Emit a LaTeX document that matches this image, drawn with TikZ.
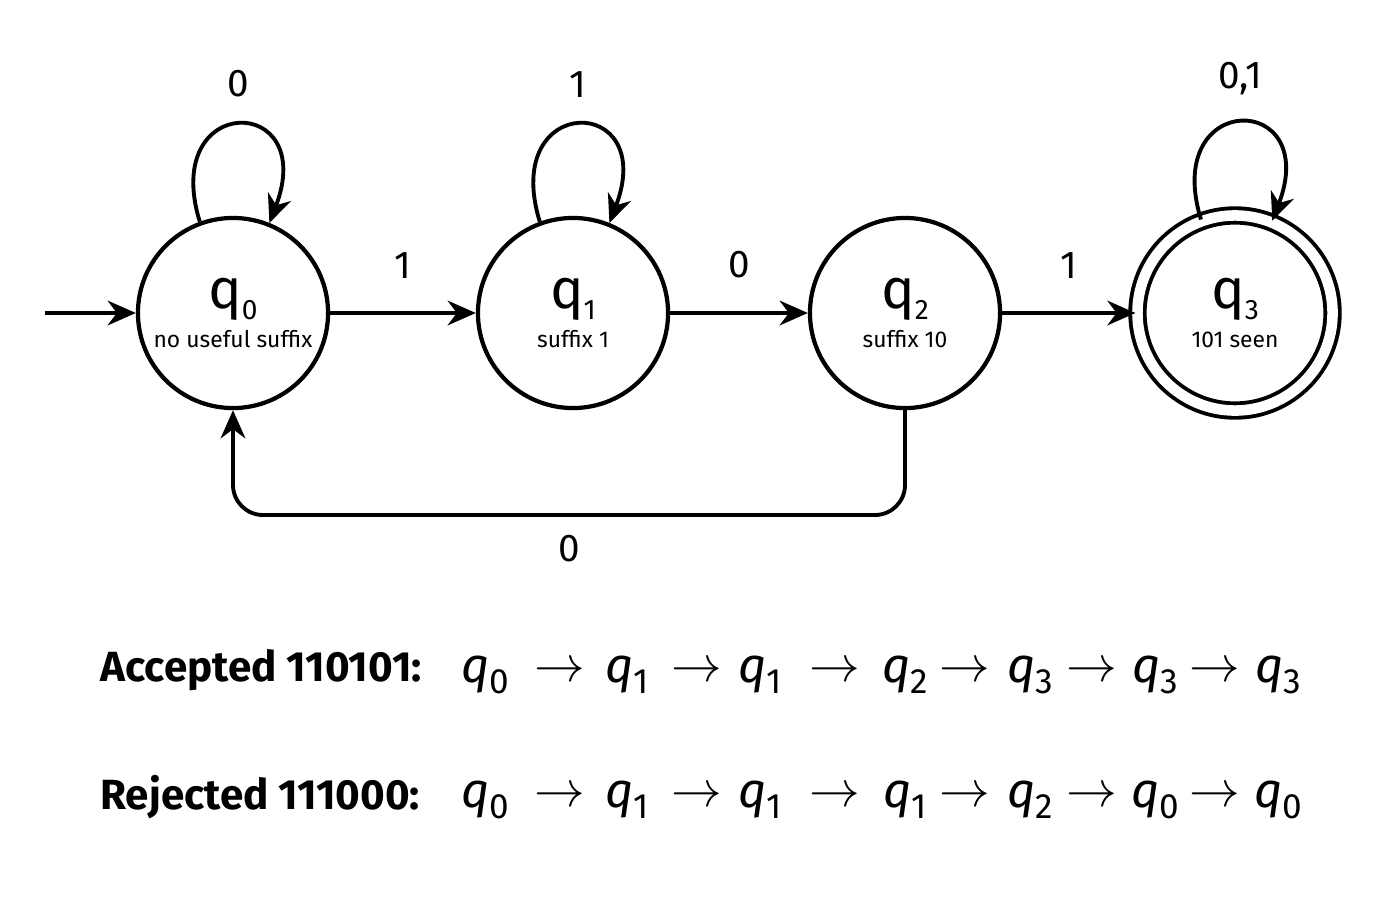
\documentclass[tikz,border=0pt]{standalone}
\usepackage{fontspec}
\setmainfont{Fira Sans}
\usetikzlibrary{arrows.meta,positioning}
\newcommand{\stname}[1]{q\raisebox{-0.35ex}{\footnotesize #1}}
\newcommand{\runq}[1]{\textit{q}\raisebox{-0.4ex}{\normalsize #1}}
\tikzset{
  state/.style={circle,draw,line width=1.2pt,minimum size=1.9cm,inner sep=0pt,align=center},
  accepting/.style={double=white,double distance=3pt,line width=1.1pt,minimum size=1.95cm},
  trans/.style={-{Stealth[length=8pt,width=7pt]},line width=1.1pt},
  lbl/.style={font=\fontsize{11}{12}\selectfont},
  run/.style={font=\fontsize{14}{16}\selectfont}
}
\begin{document}
\begin{tikzpicture}[x=0.01cm,y=-0.01cm]
  \useasboundingbox (0,0) rectangle (1400,900);
  % states
  \node[state] (q0) at (233,313) {{\fontsize{16}{17}\selectfont\stname{0}}\\[-1pt]{\fontsize{6.5}{8}\selectfont no useful suffix}};
  \node[state] (q1) at (573,313) {{\fontsize{16}{17}\selectfont\stname{1}}\\[-1pt]{\fontsize{6.5}{8}\selectfont suffix 1}};
  \node[state] (q2) at (905,313) {{\fontsize{16}{17}\selectfont\stname{2}}\\[-1pt]{\fontsize{6.5}{8}\selectfont suffix 10}};
  \node[state,accepting] (q3) at (1235,313) {{\fontsize{16}{17}\selectfont\stname{3}}\\[-1pt]{\fontsize{6.5}{8}\selectfont 101 seen}};
  \coordinate (start) at (45,313);
  \coordinate (turnR) at (905,515);
  \coordinate (turnL) at (233,515);
  % transitions
  \draw[trans] (start) -- (q0);
  \draw[trans] (q0) -- node[lbl,above=6pt] {1} (q1);
  \draw[trans] (q1) -- node[lbl,above=6pt] {0} (q2);
  \draw[trans] (q2) -- node[lbl,above=6pt] {1} (q3);
  \draw[trans] (q0.110) .. controls +(-40,-130) and +(50,-130) .. node[lbl,above=4pt] {0} (q0.68);
  \draw[trans] (q1.110) .. controls +(-40,-130) and +(50,-130) .. node[lbl,above=4pt] {1} (q1.68);
  \draw[trans] (q3.110) .. controls +(-40,-130) and +(50,-130) .. node[lbl,above=4pt] {0,1} (q3.68);
  \draw[trans,rounded corners=0.3cm] (q2.south) -- (turnR) -- node[lbl,below=2pt] {0} (turnL) -- (q0.south);
  % runs
  \node[run,anchor=west,font=\fontsize{12}{14}\selectfont] (acc) at (88,670) {\textbf{Accepted 110101:}};
  \node[run,anchor=west,font=\fontsize{12}{14}\selectfont] (rej) at (88,797) {\textbf{Rejected 111000:}};
  \foreach \x/\s/\t [count=\i] in {485/0/0,627/1/1,760/1/1,905/2/1,1030/3/2,1155/3/0,1278/3/0} {
    \node[run] (acc-q\i) at (\x,675) {\runq{\s}};
    \node[run] (rej-q\i) at (\x,800) {\runq{\t}};
  }
  \foreach \x in {560,697,835,965,1092,1215} {
    \node[run] at (\x,672) {$\rightarrow$};
    \node[run] at (\x,797) {$\rightarrow$};
  }
\end{tikzpicture}
\end{document}
